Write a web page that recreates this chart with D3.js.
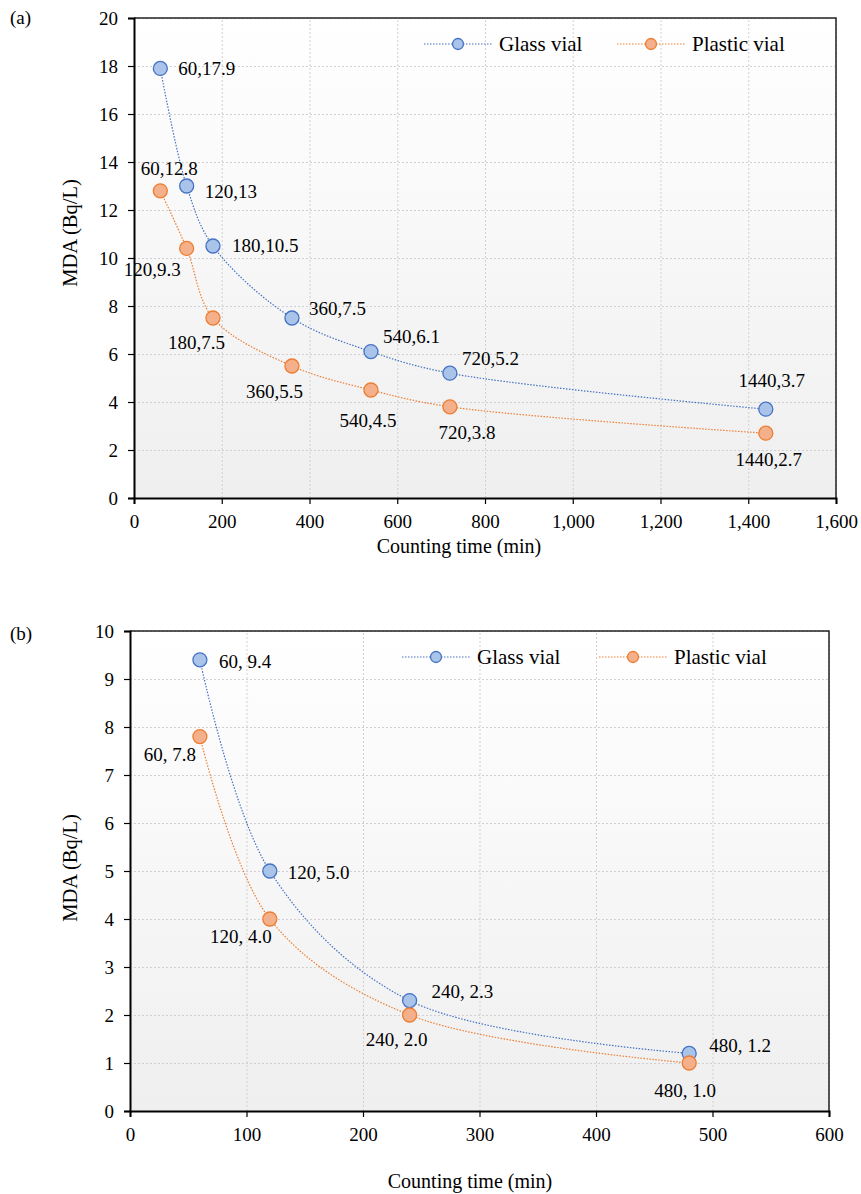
<!DOCTYPE html>
<html>
<head>
<meta charset="utf-8">
<script src="https://cdn.jsdelivr.net/npm/d3@7"></script>
<style>
  body { margin: 0; background: #fff; }
  svg text { font-family: "Liberation Serif", "Times New Roman", serif; fill: #000; }
</style>
</head>
<body>
<div id="container"></div>
<script>
// ---- data, panel (a) ----
const timeA = [60, 120, 180, 360, 540, 720, 1440];
const glassA = [17.9, 13, 10.5, 7.5, 6.1, 5.2, 3.7];
const plasticA = [12.8, 10.4, 7.5, 5.5, 4.5, 3.8, 2.7];
const glassLabelsA = ["60,17.9", "120,13", "180,10.5", "360,7.5", "540,6.1", "720,5.2", "1440,3.7"];
const plasticLabelsA = ["60,12.8", "120,9.3", "180,7.5", "360,5.5", "540,4.5", "720,3.8", "1440,2.7"];
const xTicksA = [0, 200, 400, 600, 800, 1000, 1200, 1400, 1600];
const yTicksA = [0, 2, 4, 6, 8, 10, 12, 14, 16, 18, 20];

// ---- data, panel (b) ----
const timeB = [60, 120, 240, 480];
const glassB = [9.4, 5.0, 2.3, 1.2];
const plasticB = [7.8, 4.0, 2.0, 1.0];
const glassLabelsB = ["60, 9.4", "120, 5.0", "240, 2.3", "480, 1.2"];
const plasticLabelsB = ["60, 7.8", "120, 4.0", "240, 2.0", "480, 1.0"];
const xTicksB = [0, 100, 200, 300, 400, 500, 600];
const yTicksB = [0, 1, 2, 3, 4, 5, 6, 7, 8, 9, 10];

const seriesNames = ["Glass vial", "Plastic vial"];

// label placement relative to the marker: [anchor, dx, dy]
const glassPlaceA = [["start", 18, 0], ["start", 18, 5], ["start", 19, -1], ["start", 17, -10], ["start", 12, -15], ["start", 12, -15], ["middle", 6, -29]];
const plasticPlaceA = [["middle", 9, -22], ["end", -6, 21], ["end", 12, 24], ["end", 11, 25], ["middle", -3, 30], ["middle", 17, 26], ["middle", 3, 26]];
const glassPlaceB = [["start", 19, 2], ["start", 18, 1], ["start", 22, -9], ["start", 20, -8]];
const plasticPlaceB = [["end", -4, 18], ["end", 2, 17], ["end", 18, 24], ["middle", -4, 27]];

const W = 861, H = 1194;
const blue = { line: "#4472c4", fill: "#a9c3e9" };
const orange = { line: "#ed7d31", fill: "#f4b08a" };

const svg = d3.select("#container").append("svg")
  .attr("width", W).attr("height", H);

const defs = svg.append("defs");
const grad = defs.append("linearGradient")
  .attr("id", "bg").attr("x1", 0).attr("y1", 0).attr("x2", 0).attr("y2", 1);
grad.append("stop").attr("offset", "0%").attr("stop-color", "#ffffff");
grad.append("stop").attr("offset", "100%").attr("stop-color", "#efefef");

function drawPanel(cfg) {
  const x = d3.scaleLinear().domain(cfg.xDomain).range(cfg.xRange);
  const y = d3.scaleLinear().domain(cfg.yDomain).range(cfg.yRange);
  const left = cfg.xRange[0], right = cfg.xRange[1];
  const top = cfg.yRange[1], bottom = cfg.yRange[0];

  const g = svg.append("g");

  // plot area background
  g.append("rect")
    .attr("x", left).attr("y", top)
    .attr("width", right - left).attr("height", bottom - top)
    .attr("fill", "url(#bg)");

  // grid
  g.append("g")
    .attr("transform", `translate(0,${bottom})`)
    .call(d3.axisBottom(x).tickValues(cfg.xTicks).tickSize(-(bottom - top)).tickFormat(""))
    .call(a => a.select(".domain").remove())
    .selectAll("line").attr("stroke", "#d0d0d0").attr("stroke-dasharray", "2,2");
  g.append("g")
    .attr("transform", `translate(${left},0)`)
    .call(d3.axisLeft(y).tickValues(cfg.yTicks).tickSize(-(right - left)).tickFormat(""))
    .call(a => a.select(".domain").remove())
    .selectAll("line").attr("stroke", "#d0d0d0").attr("stroke-dasharray", "2,2");

  // border top/right
  g.append("path")
    .attr("d", `M${left},${top}H${right}V${bottom}`)
    .attr("fill", "none").attr("stroke", "#222").attr("stroke-width", 1.5);

  // axes
  const xAxis = g.append("g")
    .attr("transform", `translate(0,${bottom})`)
    .call(d3.axisBottom(x).tickValues(cfg.xTicks).tickSizeOuter(0).tickSize(6).tickPadding(6).tickFormat(cfg.xFormat));
  const yAxis = g.append("g")
    .attr("transform", `translate(${left},0)`)
    .call(d3.axisLeft(y).tickValues(cfg.yTicks).tickSizeOuter(0).tickSize(6).tickPadding(10));
  [xAxis, yAxis].forEach(a => {
    a.select(".domain").attr("stroke", "#000").attr("stroke-width", 2);
    a.selectAll(".tick line").attr("stroke", "#000").attr("stroke-width", 1.2);
    a.selectAll(".tick text").attr("font-size", 19).attr("font-family", "Liberation Serif").attr("fill", "#000");
  });
  xAxis.selectAll(".tick text").attr("dy", "0.95em");

  // axis titles
  g.append("text")
    .attr("x", cfg.xTitlePos[0]).attr("y", cfg.xTitlePos[1])
    .attr("text-anchor", "middle").attr("font-size", 20)
    .text("Counting time (min)");
  g.append("text")
    .attr("transform", `translate(${cfg.yTitlePos[0]},${cfg.yTitlePos[1]}) rotate(-90)`)
    .attr("text-anchor", "middle").attr("dy", "0.35em").attr("font-size", 20.5)
    .text("MDA (Bq/L)");

  // panel tag
  g.append("text")
    .attr("x", 10).attr("y", cfg.tagY)
    .attr("font-size", 19)
    .text(cfg.tag);

  // series
  const line = d3.line()
    .x(d => x(d[0])).y(d => y(d[1]))
    .curve(d3.curveCatmullRom.alpha(0.5));

  cfg.series.forEach(s => {
    const pts = cfg.time.map((t, i) => [t, s.values[i]]);
    g.append("path")
      .datum(pts)
      .attr("d", line)
      .attr("fill", "none")
      .attr("stroke", s.color.line)
      .attr("stroke-width", 1.2)
      .attr("stroke-dasharray", "1.5,1.5");
  });
  cfg.series.forEach(s => {
    const pts = cfg.time.map((t, i) => [t, s.values[i]]);
    g.selectAll(null)
      .data(pts)
      .enter().append("circle")
      .attr("cx", d => x(d[0])).attr("cy", d => y(d[1]))
      .attr("r", 7)
      .attr("fill", s.color.fill)
      .attr("stroke", s.color.line)
      .attr("stroke-width", 1.3);
    g.selectAll(null)
      .data(pts)
      .enter().append("text")
      .attr("x", (d, i) => x(d[0]) + s.place[i][1])
      .attr("y", (d, i) => y(d[1]) + s.place[i][2])
      .attr("dy", "0.35em")
      .attr("text-anchor", (d, i) => s.place[i][0])
      .attr("font-size", 19)
      .text((d, i) => s.labels[i]);
  });

  // legend
  const lg = g.append("g").attr("transform", `translate(${cfg.legendPos[0]},${cfg.legendPos[1]})`);
  cfg.series.forEach((s, i) => {
    const ox = i * cfg.legendGap;
    lg.append("line")
      .attr("x1", ox).attr("x2", ox + 68).attr("y1", 0).attr("y2", 0)
      .attr("stroke", s.color.line).attr("stroke-width", 1.2).attr("stroke-dasharray", "1.5,1.5");
    lg.append("circle")
      .attr("cx", ox + 34).attr("cy", 0).attr("r", 5.5)
      .attr("fill", s.color.fill).attr("stroke", s.color.line).attr("stroke-width", 1.3);
    lg.append("text")
      .attr("x", ox + 75).attr("y", 0).attr("dy", "0.35em")
      .attr("font-size", 21)
      .text(s.name);
  });
}

drawPanel({
  tag: "(a)", tagY: 24,
  xDomain: [0, 1600], xRange: [134, 836],
  yDomain: [0, 20], yRange: [498, 18],
  xTicks: xTicksA, yTicks: yTicksA,
  xFormat: d3.format(","),
  time: timeA,
  series: [
    { name: seriesNames[0], values: glassA, labels: glassLabelsA, place: glassPlaceA, color: blue },
    { name: seriesNames[1], values: plasticA, labels: plasticLabelsA, place: plasticPlaceA, color: orange }
  ],
  xTitlePos: [459, 553], yTitlePos: [70, 233],
  legendPos: [424, 44], legendGap: 193
});

drawPanel({
  tag: "(b)", tagY: 640,
  xDomain: [0, 600], xRange: [130, 829],
  yDomain: [0, 10], yRange: [1111, 631],
  xTicks: xTicksB, yTicks: yTicksB,
  xFormat: d3.format("d"),
  time: timeB,
  series: [
    { name: seriesNames[0], values: glassB, labels: glassLabelsB, place: glassPlaceB, color: blue },
    { name: seriesNames[1], values: plasticB, labels: plasticLabelsB, place: plasticPlaceB, color: orange }
  ],
  xTitlePos: [470, 1188], yTitlePos: [70, 868],
  legendPos: [402, 657], legendGap: 197
});
</script>
</body>
</html>
